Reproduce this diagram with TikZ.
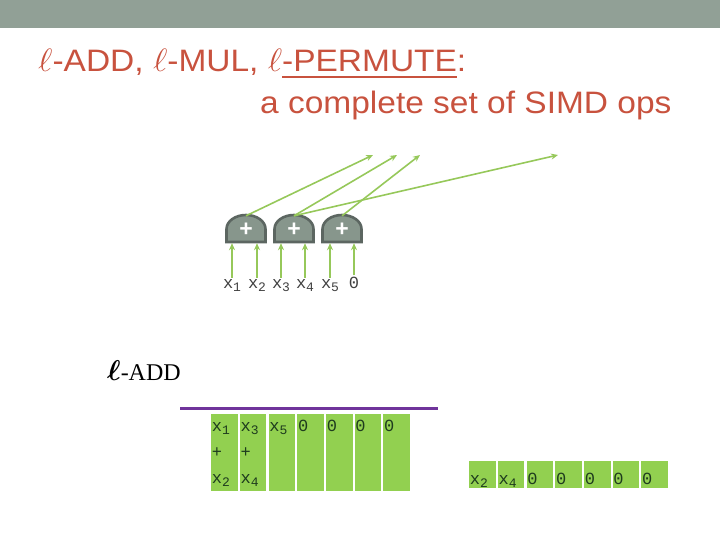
\documentclass[tikz,border=0pt]{standalone}
\usepackage{amsmath}
\usepackage{fontspec}
\setmainfont{Liberation Serif}
\setsansfont{Liberation Sans}
\setmonofont{Liberation Mono}
\usetikzlibrary{positioning, arrows.meta}

\definecolor{barcol}{RGB}{145,160,150}
\definecolor{titlecol}{RGB}{200,82,62}
\definecolor{gatefill}{RGB}{135,150,140}
\definecolor{gatedraw}{RGB}{92,102,97}
\definecolor{arrcol}{RGB}{150,200,90}
\definecolor{cellcol}{RGB}{146,208,80}
\definecolor{celltext}{RGB}{30,60,30}
\definecolor{linecol}{RGB}{112,52,155}

\newcommand{\xsub}[1]{x\raisebox{-3.5pt}{\fontsize{13}{13}\selectfont#1}}
\newcommand{\cellbox}[1]{\parbox[t]{25pt}{#1}}
\newcommand{\thickul}[1]{\setbox0\hbox{#1}\rlap{\rule[-6pt]{\wd0}{1.8pt}}\box0}
\newcommand{\bigell}{\scalebox{1.3}{$\ell$}}

\begin{document}
\begin{tikzpicture}[x=1pt, y=-1pt,
      node distance = 1.8pt,
      head/.style   = {font=\sffamily\fontsize{31}{31}\selectfont, text=titlecol,
                       inner sep=0pt, xscale=1.08},
      gate/.style   = {fill=gatefill, draw=gatedraw, line width=2.6pt},
      plus/.style   = {minimum width=39pt, minimum height=27pt, inner sep=0pt,
                       text=white, font=\sffamily\bfseries\fontsize{23}{23}\selectfont},
      inlab/.style  = {font=\ttfamily\fontsize{17}{17}\selectfont, text=black!75, inner sep=1pt},
      garr/.style   = {-{Stealth[length=7pt, width=6pt]}, line width=1.6pt, draw=arrcol},
      cellA/.style  = {fill=cellcol, minimum width=26.5pt, inner sep=0pt,
                       text height=17pt, text depth=60pt, text=celltext,
                       font=\ttfamily\fontsize{17}{26}\selectfont},
      cellB/.style  = {cellA, text height=23pt, text depth=4pt},
    ]
    \useasboundingbox (0,0) rectangle (720,540);
    \fill[barcol] (0,0) rectangle (720,28);

    % Title
    \node[head, anchor=base west] (line1) at (38,72)
          {\bigell-ADD, \bigell-MUL, \bigell\thickul{-PERMUTE}:};
    \node[head, anchor=base west] (line2) at (260,114) {a complete set of SIMD ops};

    % Adders
    \foreach \i/\x in {1/246, 2/294, 3/342} {
      \draw[gate] (\x-19.5,242) -- (\x-19.5,229)
            arc[start angle=180, end angle=0, x radius=19.5pt, y radius=14pt]
            -- (\x+19.5,242) -- cycle;
      \node[plus] (g\i) at (\x,229.5) {+};
    }

    % Inputs
    \node[inlab, anchor=base] (in1) at (232,288) {\xsub{1}};
    \node[inlab, anchor=base] (in2) at (257,288) {\xsub{2}};
    \node[inlab, anchor=base] (in3) at (281,288) {\xsub{3}};
    \node[inlab, anchor=base] (in4) at (305,288) {\xsub{4}};
    \node[inlab, anchor=base] (in5) at (330,288) {\xsub{5}};
    \node[inlab, anchor=base] (in6) at (354,288) {0};

    \draw[garr] (in1.north) -- (in1.north |- g1.south);
    \draw[garr] (in2.north) -- (in2.north |- g1.south);
    \draw[garr] (in3.north) -- (in3.north |- g2.south);
    \draw[garr] (in4.north) -- (in4.north |- g2.south);
    \draw[garr] (in5.north) -- (in5.north |- g3.south);
    \draw[garr] (in6.north) -- (in6.north |- g3.south);

    % Outputs
    \coordinate (out1) at (373,155);
    \coordinate (out2) at (397,155);
    \coordinate (out3) at (420,155);
    \coordinate (out4) at (558,155);
    \draw[garr] (g1.north) -- (out1);
    \draw[garr] (g2.north) -- (out2);
    \draw[garr] (g3.north) -- (out3);
    \draw[garr] (g2.north) -- (out4);

    % l-ADD
    \node[anchor=base west, inner sep=0pt, font=\fontsize{24}{24}\selectfont] (ladd) at (107,380)
          {\scalebox{1.15}{$\boldsymbol{\ell}$}-ADD};
    \draw[linecol, line width=3pt] (180,408) -- (438,408);

    % Register after the adds
    \node[cellA, anchor=north west] (a1) at (211,414) {\cellbox{\xsub{1}\\+\\\xsub{2}}};
    \node[cellA, right=of a1] (a2) {\cellbox{\xsub{3}\\+\\\xsub{4}}};
    \node[cellA, right=of a2] (a3) {\cellbox{\xsub{5}}};
    \node[cellA, right=of a3] (a4) {\cellbox{0}};
    \node[cellA, right=of a4] (a5) {\cellbox{0}};
    \node[cellA, right=of a5] (a6) {\cellbox{0}};
    \node[cellA, right=of a6] (a7) {\cellbox{0}};

    % Second register
    \node[cellB, anchor=north west] (b1) at (469,461) {\cellbox{\xsub{2}}};
    \node[cellB, right=of b1] (b2) {\cellbox{\xsub{4}}};
    \node[cellB, right=of b2] (b3) {\cellbox{0}};
    \node[cellB, right=of b3] (b4) {\cellbox{0}};
    \node[cellB, right=of b4] (b5) {\cellbox{0}};
    \node[cellB, right=of b5] (b6) {\cellbox{0}};
    \node[cellB, right=of b6] (b7) {\cellbox{0}};
  \end{tikzpicture}
\end{document}
